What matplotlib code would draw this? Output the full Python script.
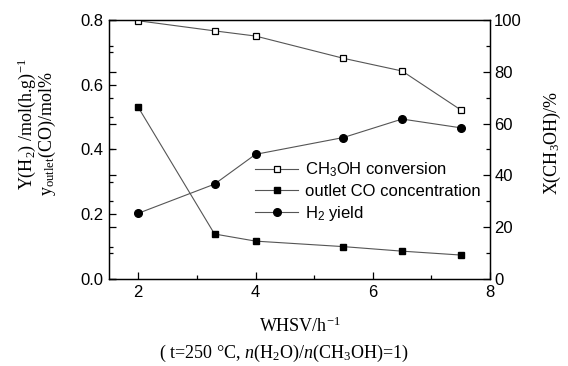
import matplotlib
matplotlib.use("Agg")
import matplotlib.pyplot as plt
from matplotlib.ticker import MultipleLocator

plt.rcParams['font.family'] = ['Liberation Sans', 'DejaVu Sans']
plt.rcParams['mathtext.fontset'] = 'custom'
plt.rcParams['mathtext.rm'] = 'Liberation Serif'
plt.rcParams['mathtext.it'] = 'Liberation Serif:italic'
plt.rcParams['mathtext.sf'] = 'Liberation Sans'

# data
whsv = [2, 3.3, 4, 5.5, 6.5, 7.5]
conversion = [99.7, 95.8, 93.8, 85.2, 80.3, 65.3]      # %, right axis
co_outlet = [0.530, 0.139, 0.117, 0.100, 0.086, 0.074]  # left axis
h2_yield = [0.203, 0.293, 0.385, 0.437, 0.494, 0.467]   # left axis

fig = plt.figure(figsize=(5.68, 3.66), dpi=100)
ax = fig.add_axes([0.1919, 0.2377, 0.6708, 0.7077])
ax2 = ax.twinx()

lc = '#555555'
l1, = ax2.plot(whsv, conversion, color=lc, lw=0.8, marker='s', ms=4.5,
               mfc='white', mec='black', mew=0.9, label=r'CH$_\mathsf{3}$OH conversion')
l2, = ax.plot(whsv, co_outlet, color=lc, lw=0.8, marker='s', ms=4.5,
              mfc='black', mec='black', label='outlet CO concentration')
l3, = ax.plot(whsv, h2_yield, color=lc, lw=0.8, marker='o', ms=5.5,
              mfc='black', mec='black', label=r'H$_\mathsf{2}$ yield')

ax.set_xlim(1.5, 8)
ax.set_ylim(0, 0.8)
ax2.set_ylim(0, 100)

ax.xaxis.set_major_locator(MultipleLocator(2))
ax.xaxis.set_minor_locator(MultipleLocator(1))
ax.yaxis.set_major_locator(MultipleLocator(0.2))
ax.yaxis.set_minor_locator(MultipleLocator(0.1))
ax2.yaxis.set_major_locator(MultipleLocator(20))
ax2.yaxis.set_minor_locator(MultipleLocator(10))
ax.yaxis.set_major_formatter(matplotlib.ticker.FormatStrFormatter('%.1f'))

ax.tick_params(which='both', direction='in', top=False, right=False,
               labelsize=12, pad=4)
ax.tick_params(which='major', length=5, width=0.9)
ax.tick_params(which='minor', length=3, width=0.9)
ax2.yaxis.set_ticks_position('both')
ax2.tick_params(which='both', direction='in', labelleft=False, labelright=True,
                labelsize=12, pad=3)
ax2.tick_params(which='major', length=5, width=0.9)
ax2.tick_params(which='minor', length=3, width=0.9)

for a in (ax, ax2):
    for s in a.spines.values():
        s.set_linewidth(0.9)

serif = 'Liberation Serif'
ax.set_xlabel(r'WHSV/h$^{\mathrm{-1}}$', family=serif, fontsize=13, labelpad=12)
fig.text(0.5, 0.035, r'( t=250 °C, $n$(H$_2$O)/$n$(CH$_3$OH)=1)', family=serif,
         fontsize=13, ha='center', va='center')
fig.text(0.047, 0.66, r'Y(H$_2$) /mol(h.g)$^{-1}$', family=serif, fontsize=13,
         rotation=90, ha='center', va='center')
fig.text(0.083, 0.635, r'y$_{\mathrm{outlet}}$(CO)/mol%', family=serif, fontsize=13,
         rotation=90, ha='center', va='center')
fig.text(0.972, 0.61, r'X(CH$_3$OH)/%', family=serif, fontsize=13,
         rotation=90, ha='center', va='center')

ax.legend(handles=[l1, l2, l3], loc='upper left', bbox_to_anchor=(0.383, 0.458),
          frameon=False, fontsize=12, handlelength=2.6, handletextpad=0.4,
          labelspacing=0.3, borderpad=0, borderaxespad=0)

fig.savefig('out.png', dpi=100)
